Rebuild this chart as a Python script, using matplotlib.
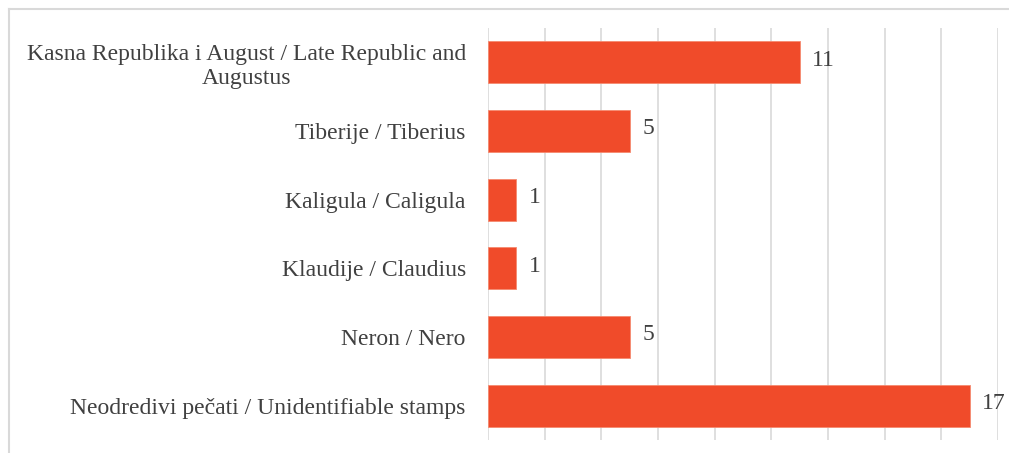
import numpy as np
import matplotlib
matplotlib.use('Agg')
import matplotlib.pyplot as plt
from matplotlib.lines import Line2D

categories = ["Kasna Republika i August / Late Republic and\nAugustus",
              "Tiberije / Tiberius",
              "Kaligula / Caligula",
              "Klaudije / Claudius",
              "Neron / Nero",
              "Neodredivi pečati / Unidentifiable stamps"]
values = [11, 5, 1, 1, 5, 17]

plt.rcParams['font.family'] = ['Liberation Serif', 'DejaVu Serif']

fig = plt.figure(figsize=(10.09, 4.53), dpi=100)
ax = fig.add_axes([488/1009, 1 - 440/453, (998 - 488)/1009, (440 - 28)/453])

y = np.arange(len(categories))
ax.barh(y, values, height=0.61, color='#F04B2A', edgecolor='#F58A70', linewidth=0.6, zorder=3)
for yi, v in zip(y, values):
    ax.text(v + 0.45, yi - 0.03, str(v), va='center', ha='left', fontsize=17, color='#404040')

ax.set_ylim(len(categories) - 0.5, -0.5)
ax.set_xlim(0, 18)
ax.set_xticks(np.arange(0, 19, 2))
ax.set_xticklabels([])
ax.tick_params(axis='x', length=0)
ax.grid(axis='x', color='#D9D9D9', linewidth=1.2, zorder=0)
ax.set_yticks(y)
ax.set_yticklabels(categories, fontsize=17, color='#404040', multialignment='center')
ax.tick_params(axis='y', length=0, pad=16)
for s in ax.spines.values():
    s.set_visible(False)

# chart frame
fig.add_artist(Line2D([9/1009, 1], [1 - 9/453, 1 - 9/453], color='#D9D9D9', linewidth=1.5))
fig.add_artist(Line2D([9/1009, 9/1009], [1 - 9/453, 0], color='#D9D9D9', linewidth=1.5))

plt.savefig('out.png', dpi=100)
